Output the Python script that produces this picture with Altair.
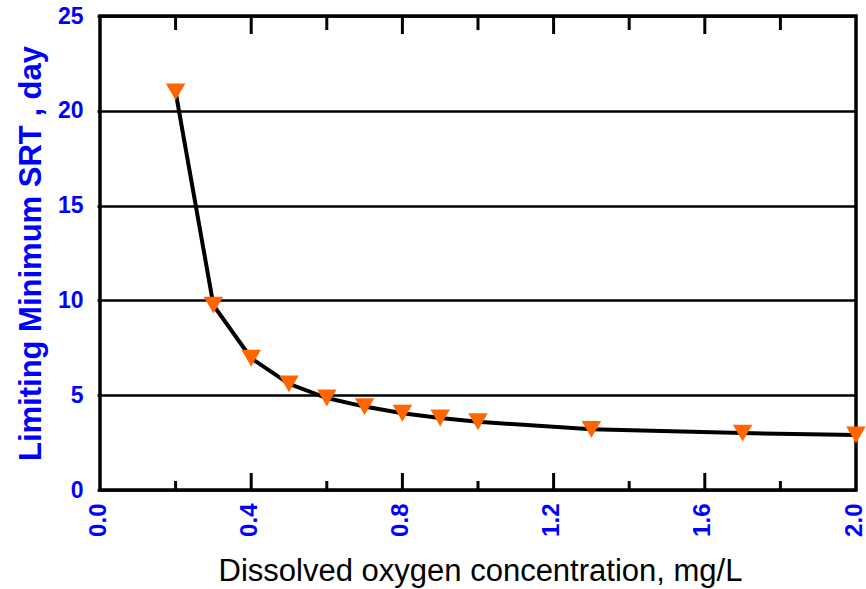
import altair as alt
import pandas as pd

# ---- data ----
do_conc = [0.2, 0.3, 0.4, 0.5, 0.6, 0.7, 0.8, 0.9, 1.0, 1.3, 1.7, 2.0]
srt_days = [21.0, 9.75, 6.95, 5.6, 4.85, 4.4, 4.05, 3.8, 3.6, 3.2, 3.0, 2.9]
x_tick_labels = [0.0, 0.4, 0.8, 1.2, 1.6, 2.0]
y_tick_labels = [0, 5, 10, 15, 20, 25]
major_inner = [0.4, 0.8, 1.2, 1.6]
minor_inner = [0.2, 0.6, 1.0, 1.4, 1.8]

# ---- layout / style ----
W, H = 756, 474
YMAX = 25
UNIT = H / YMAX  # pixels per day


def span(pixels):
    return pixels / UNIT


BLUE = "#0000FF"
ORANGE = "#FF6600"
FONT = "Liberation Sans, Arial, sans-serif"

df = pd.DataFrame({"do": do_conc, "srt": srt_days})

rows = []
for v in major_inner:
    rows.append({"do": v, "srt": 0.0, "srt2": span(17)})
    rows.append({"do": v, "srt": YMAX, "srt2": YMAX - span(18)})
for v in minor_inner:
    rows.append({"do": v, "srt": 0.0, "srt2": span(9)})
    rows.append({"do": v, "srt": YMAX, "srt2": YMAX - span(14)})
ticks_df = pd.DataFrame(rows)

x_enc = alt.X(
    "do:Q",
    scale=alt.Scale(domain=[0, 2], nice=False, zero=False),
    axis=alt.Axis(
        values=x_tick_labels,
        format=".1f",
        labelAngle=270,
        labelAlign="right",
        labelBaseline="middle",
        labelFont=FONT,
        labelFontSize=24,
        labelFontWeight="bold",
        labelColor=BLUE,
        labelPadding=13,
        labelOffset=-2,
        ticks=False,
        domain=False,
        grid=False,
        title="Dissolved oxygen concentration, mg/L",
        titleFont=FONT,
        titleFontSize=31,
        titleFontWeight="normal",
        titleColor="black",
        titleX=380,
        titleY=90,
        titleAlign="center",
        titleBaseline="alphabetic",
    ),
)

y_enc = alt.Y(
    "srt:Q",
    scale=alt.Scale(domain=[0, YMAX], nice=False, zero=True),
    axis=alt.Axis(
        values=y_tick_labels,
        grid=True,
        gridColor="black",
        gridWidth=2.5,
        gridOpacity=1,
        ticks=True,
        tickColor="black",
        tickWidth=2.5,
        tickSize=3,
        domain=False,
        labelFont=FONT,
        labelFontSize=23,
        labelFontWeight="bold",
        labelColor=BLUE,
        labelPadding=14,
        title="Limiting Minimum SRT , day",
        titleFont=FONT,
        titleFontSize=31,
        titleFontWeight="bold",
        titleColor=BLUE,
        titleAngle=270,
        titleX=-60,
        titleY=237,
        titleAlign="center",
        titleBaseline="alphabetic",
    ),
)

line = alt.Chart(df).mark_line(color="black", strokeWidth=4).encode(x=x_enc, y=y_enc)

points = alt.Chart(df).mark_point(
    shape="triangle-down", filled=True, color=ORANGE, size=380, opacity=1
).encode(x="do:Q", y="srt:Q")

ticks = alt.Chart(ticks_df).mark_rule(color="black", strokeWidth=3).encode(
    x="do:Q", y="srt:Q", y2="srt2:Q"
)

chart = (
    alt.layer(line, ticks, points)
    .properties(
        width=W,
        height=H,
        padding={"left": 100, "top": 16, "right": 10, "bottom": 99},
        autosize=alt.AutoSizeParams(type="none"),
        background="white",
    )
    .configure_view(stroke="black", strokeWidth=3.5)
)

chart.save("out.html", embed_options={"renderer": "svg", "actions": False})
